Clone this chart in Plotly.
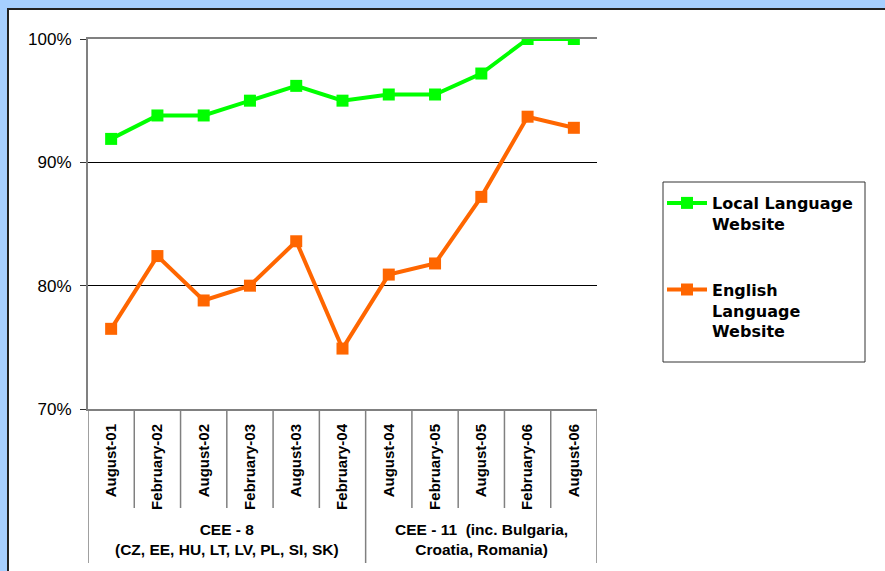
import plotly.graph_objects as go

# --------------------------------------------------------------------------- #
# Data
# --------------------------------------------------------------------------- #
PERIODS = ["August-01", "February-02", "August-02", "February-03", "August-03",
           "February-04", "August-04", "February-05", "August-05", "February-06",
           "August-06"]
LOCAL_SITE = [91.9, 93.8, 93.8, 95.0, 96.2, 95.0, 95.5, 95.5, 97.2, 100.0, 100.0]
ENGLISH_SITE = [76.5, 82.4, 78.8, 80.0, 83.6, 74.9, 80.9, 81.8, 87.2, 93.7, 92.8]
GROUPS = [
    ("CEE - 8<br>(CZ, EE, HU, LT, LV, PL, SI, SK)", 0, 6),
    ("CEE - 11\u00a0 (inc. Bulgaria,<br>Croatia, Romania)", 6, 11),
]
Y_TICKS = [70, 80, 90, 100]

COLORS = {"local": "#00FF00", "english": "#FF6600", "frame": "#A6CFFF",
          "axis": "#808080"}
FONT = "Liberation Sans, Arial, sans-serif"
LEGEND_FONT = "DejaVu Sans, Liberation Sans, sans-serif"

# layout in page pixels (body margin is removed in the page, see write_html)
W, H = 885, 571
ML, MT = 88, 39
MR, MB = W - 597, H - 409
PW, PH = W - ML - MR, H - MT - MB


def px_x(p):  # pixel -> paper x
    return (p - ML) / PW


def px_y(p):  # pixel -> paper y
    return (H - MB - p) / PH


fig = go.Figure()
fig.add_trace(go.Scatter(
    x=PERIODS, y=LOCAL_SITE, mode="lines+markers",
    name="Local Language<br>Website", legendgroup="a",
    line=dict(color=COLORS["local"], width=4),
    marker=dict(symbol="square", size=12, color=COLORS["local"])))
fig.add_trace(go.Scatter(
    x=PERIODS, y=ENGLISH_SITE, mode="lines+markers",
    name="English<br>Language<br>Website", legendgroup="b",
    line=dict(color=COLORS["english"], width=4),
    marker=dict(symbol="square", size=12, color=COLORS["english"])))

shapes = [
    # white chart area with dark border
    dict(type="rect", xref="paper", yref="paper", layer="below",
         x0=px_x(8), x1=px_x(W + 40), y0=px_y(H + 40), y1=px_y(9),
         fillcolor="white", line=dict(color="#222222", width=2)),
    # legend box
    dict(type="rect", xref="paper", yref="paper",
         x0=px_x(663), x1=px_x(865), y0=px_y(362), y1=px_y(182),
         fillcolor="rgba(0,0,0,0)", line=dict(color="#333333", width=1)),
]
group_edges = {g[1] for g in GROUPS} | {g[2] for g in GROUPS}
for i in range(len(PERIODS) + 1):
    bottom = 563 if i in group_edges else 508
    shapes.append(dict(type="line", xref="x", yref="paper",
                       x0=i - 0.5, x1=i - 0.5, y0=0, y1=px_y(bottom),
                       line=dict(color=COLORS["axis"], width=1.5)))

annotations = [
    dict(text=f"<b>{label}</b>", x=(a + b - 1) / 2, xref="x",
         y=px_y(539), yref="paper", yanchor="middle", showarrow=False,
         font=dict(family=FONT, size=15.5, color="black"), align="center")
    for label, a, b in GROUPS
]

fig.update_layout(
    width=W, height=H,
    margin=dict(l=ML, r=MR, t=MT, b=MB),
    paper_bgcolor=COLORS["frame"], plot_bgcolor="rgba(0,0,0,0)",
    font=dict(family=FONT, color="black"),
    shapes=shapes, annotations=annotations,
    showlegend=True,
    legend=dict(x=px_x(662), y=px_y(186), xanchor="left", yanchor="top",
                bgcolor="rgba(0,0,0,0)", borderwidth=0, valign="top",
                tracegroupgap=42, itemwidth=40,
                font=dict(family=LEGEND_FONT, size=16, color="black",
                          weight="bold")),
    xaxis=dict(type="category", range=[-0.5, len(PERIODS) - 0.5],
               showline=True, mirror=True, linecolor=COLORS["axis"], linewidth=2,
               showgrid=False, ticks="", tickangle=-90, ticklabelstandoff=7,
               tickfont=dict(family=FONT, size=15, color="black", weight="bold")),
    yaxis=dict(range=[70, 100], tickvals=Y_TICKS,
               ticktext=[f"{v}%" for v in Y_TICKS],
               showline=True, linecolor=COLORS["axis"], linewidth=2,
               showgrid=True, gridcolor="black", gridwidth=1, zeroline=False,
               ticks="outside", ticklen=6, tickcolor="#333333",
               ticklabelstandoff=5,
               tickfont=dict(family=FONT, size=17, color="black")),
)

# drop the default body margin so the figure fills the window exactly
fig.write_html("out.html", config={"displayModeBar": False},
               post_script="document.body.style.margin='0';")
